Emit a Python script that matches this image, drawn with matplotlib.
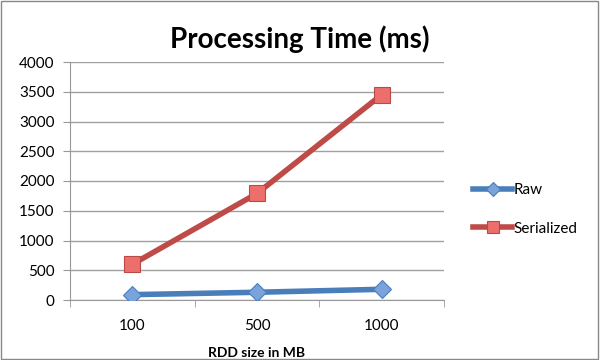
import matplotlib
matplotlib.use("Agg")
import matplotlib.pyplot as plt
from matplotlib.patches import Rectangle

categories = ["100", "500", "1000"]
raw = [90, 130, 180]
serialized = [600, 1790, 3450]
yticks = [0, 500, 1000, 1500, 2000, 2500, 3000, 3500, 4000]

plt.rcParams['font.family'] = ['Lato', 'DejaVu Sans']

fig = plt.figure(figsize=(6, 3.6), dpi=100)
fig.patches.append(Rectangle((0.002, 0.003), 0.995, 0.994, transform=fig.transFigure,
                             fill=False, edgecolor='#888888', linewidth=1.0))
ax = fig.add_axes([70/600, 1-300/360, (444-70)/600, (300-62)/360])

x = list(range(len(categories)))
ax.plot(x, raw, color='#4a7ebb', linewidth=4, marker='D', markersize=9,
        markerfacecolor='#7aa3dc', markeredgecolor='#4a7ebb', markeredgewidth=0.8,
        label='Raw', zorder=3)
ax.plot(x, serialized, color='#be4b48', linewidth=4, marker='s', markersize=11,
        markerfacecolor='#ec6f6c', markeredgecolor='#b84a47', markeredgewidth=0.8,
        label='Serialized', zorder=3)

ax.set_xlim(-0.5, len(categories) - 0.5)
ax.set_ylim(0, 4000)
ax.set_yticks(yticks)
ax.set_yticklabels([str(v) for v in yticks], fontsize=11)
ax.set_xticks(x)
ax.set_xticklabels(categories, fontsize=11)
ax.set_xticks([i - 0.5 for i in range(len(categories) + 1)], minor=True)
ax.tick_params(axis='x', which='major', length=0, pad=14)
ax.tick_params(axis='x', which='minor', length=5, color='#999999')
ax.tick_params(axis='y', length=5, color='#999999', pad=6)
ax.grid(axis='y', color='#a0a0a0', linewidth=1)
ax.set_axisbelow(True)
for s in ['top', 'right']:
    ax.spines[s].set_visible(False)
for s in ['left', 'bottom']:
    ax.spines[s].set_color('#999999')

ax.set_xlabel('RDD size in MB', fontsize=10, fontweight='bold', labelpad=10)
fig.text(0.5, 0.89, 'Processing Time (ms)', fontsize=20, fontweight='bold', ha='center', va='center')

leg = ax.legend(loc='center left', bbox_to_anchor=(1.04, 0.38), frameon=False, fontsize=11,
                handlelength=2.6, handletextpad=0.1, labelspacing=1.6, markerscale=0.8)

fig.savefig('out.png', dpi=100)
